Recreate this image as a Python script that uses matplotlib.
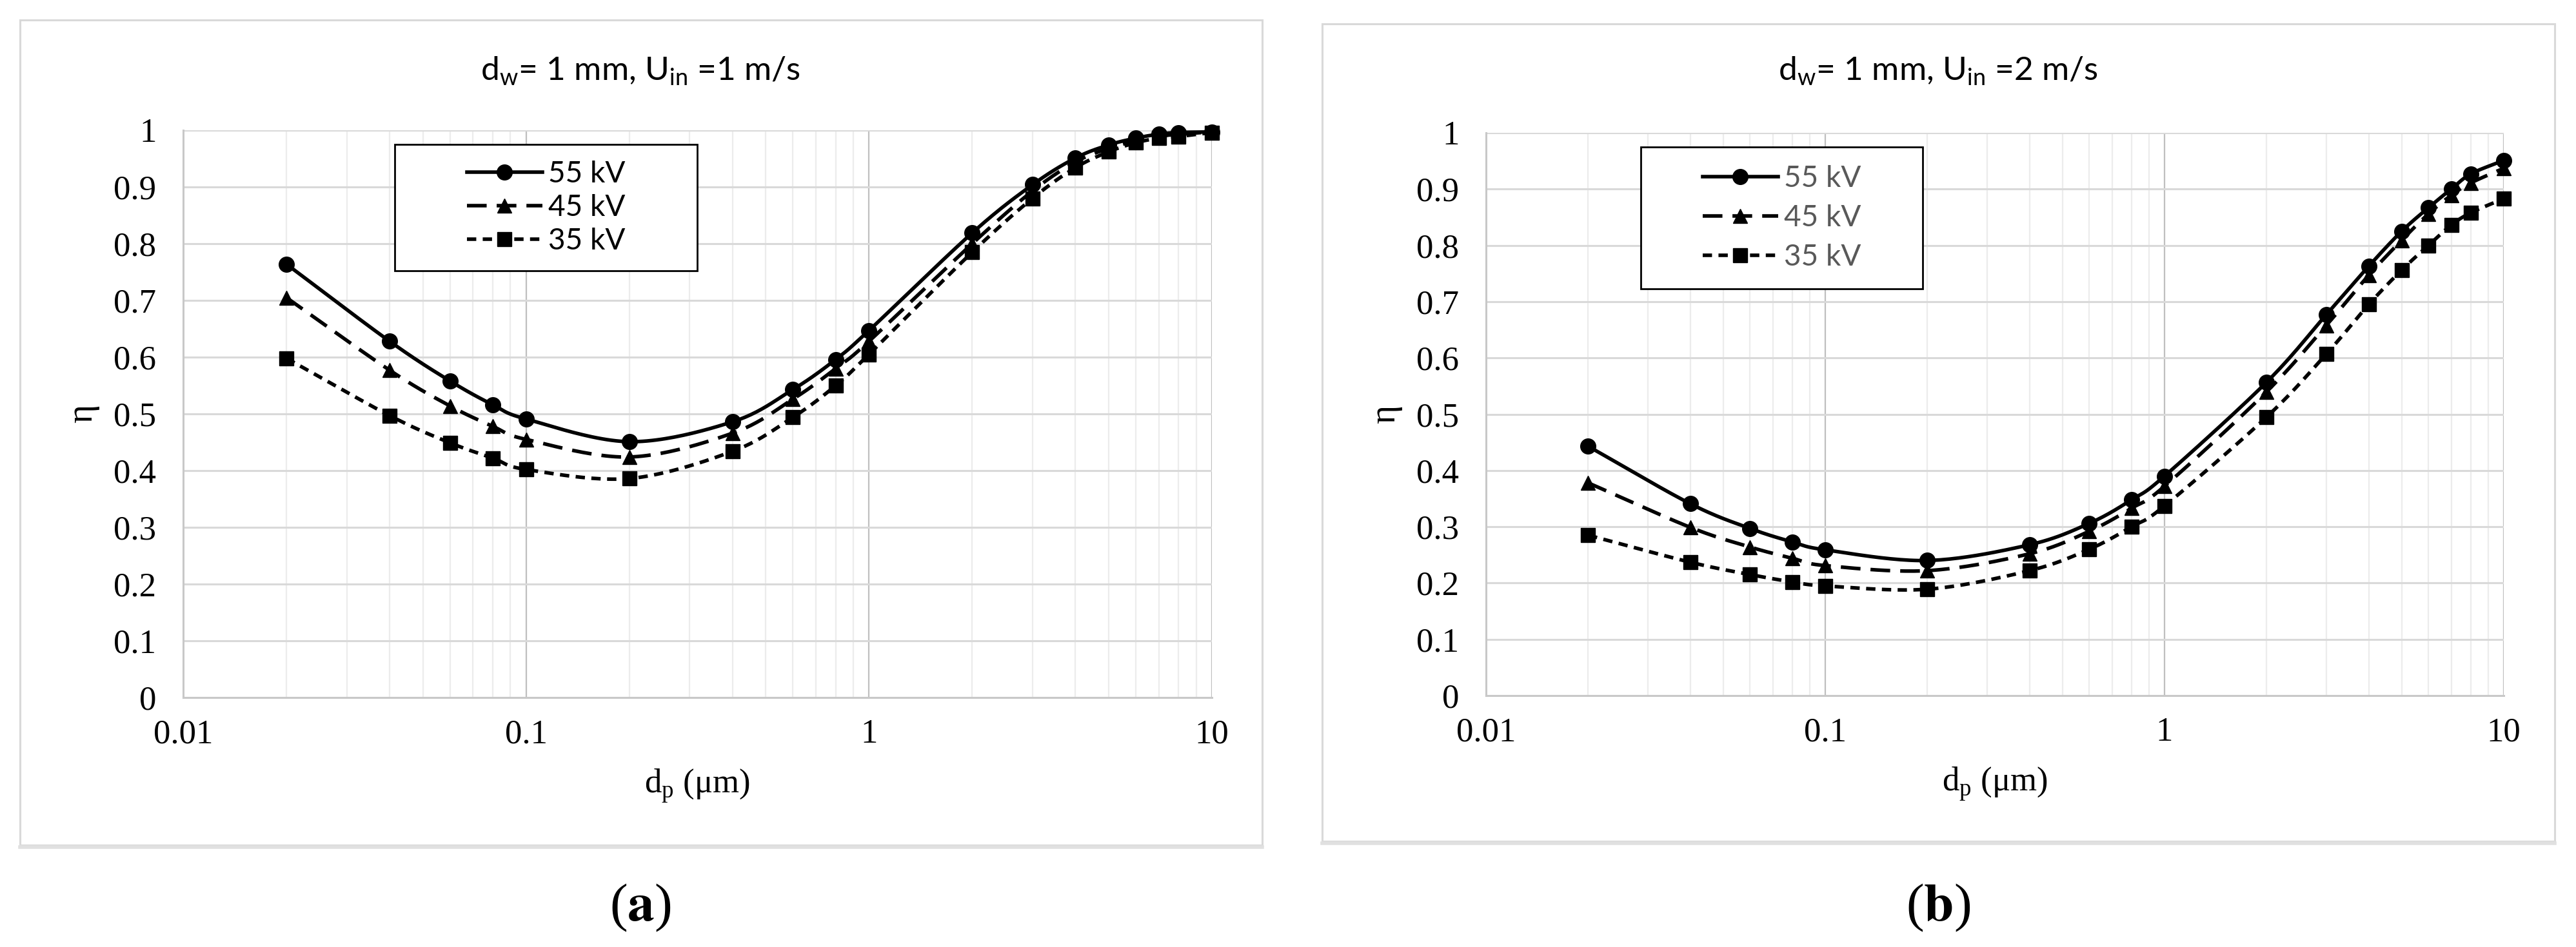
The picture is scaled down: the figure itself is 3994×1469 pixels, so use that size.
import numpy as np
import matplotlib
matplotlib.use("Agg")
import matplotlib.pyplot as plt
from matplotlib.lines import Line2D
from matplotlib.patches import Rectangle
from matplotlib.ticker import FixedLocator, NullFormatter, LogLocator

# ---------------- data ----------------
dp = [0.02, 0.04, 0.06, 0.08, 0.1, 0.2, 0.4, 0.6, 0.8, 1, 2, 3, 4, 5, 6, 7, 8, 10]
series_labels = ["55 kV", "45 kV", "35 kV"]

eta_a_55 = [0.764, 0.628, 0.558, 0.516, 0.491, 0.451, 0.486, 0.543, 0.596, 0.647, 0.819, 0.904, 0.951, 0.974, 0.986, 0.993, 0.996, 0.997]
eta_a_45 = [0.705, 0.577, 0.514, 0.478, 0.455, 0.424, 0.466, 0.526, 0.580, 0.628, 0.800, 0.893, 0.944, 0.968, 0.981, 0.989, 0.993, 0.997]
eta_a_35 = [0.598, 0.497, 0.449, 0.422, 0.402, 0.386, 0.434, 0.494, 0.550, 0.605, 0.785, 0.880, 0.934, 0.962, 0.978, 0.986, 0.989, 0.996]

eta_b_55 = [0.443, 0.341, 0.297, 0.273, 0.259, 0.240, 0.268, 0.306, 0.348, 0.390, 0.557, 0.677, 0.763, 0.825, 0.867, 0.900, 0.927, 0.951]
eta_b_45 = [0.378, 0.299, 0.264, 0.244, 0.231, 0.222, 0.252, 0.292, 0.333, 0.372, 0.540, 0.658, 0.747, 0.809, 0.856, 0.889, 0.911, 0.937]
eta_b_35 = [0.285, 0.237, 0.215, 0.202, 0.195, 0.189, 0.222, 0.260, 0.300, 0.337, 0.495, 0.607, 0.695, 0.756, 0.800, 0.836, 0.858, 0.883]

titles = ["d$_\\mathregular{w}$= 1 mm, U$_\\mathregular{in}$ =1 m/s",
          "d$_\\mathregular{w}$= 1 mm, U$_\\mathregular{in}$ =2 m/s"]
panel_tags = ["($\\mathbf{a}$)", "($\\mathbf{b}$)"]
yticks = [0, 0.1, 0.2, 0.3, 0.4, 0.5, 0.6, 0.7, 0.8, 0.9, 1]
ytick_labels = ["0", "0.1", "0.2", "0.3", "0.4", "0.5", "0.6", "0.7", "0.8", "0.9", "1"]
xticks = [0.01, 0.1, 1, 10]
xtick_labels = ["0.01", "0.1", "1", "10"]

# ---------------- style ----------------
W, H = 3994, 1469
DPI = 100
SERIF = ["Liberation Serif", "DejaVu Serif"]
SANS = ["Lato", "DejaVu Sans"]
styles = [
    dict(ls="-", marker="o", dashes=None, ms=17),
    dict(ls="--", marker="^", dashes=(5.5, 2.8), ms=16),
    dict(ls="--", marker="s", dashes=(2.6, 1.8), ms=16),
]
LW = 4.0


def smooth(x, y, n=24):
    """Catmull-Rom smoothing in log-x space (emulates a smoothed line)."""
    lx = np.log10(np.asarray(x, float))
    yy = np.asarray(y, float)
    P = np.column_stack([lx, yy])
    P = np.vstack([2 * P[0] - P[1], P, 2 * P[-1] - P[-2]])
    out = []
    t = np.linspace(0, 1, n, endpoint=False)[:, None]
    for i in range(1, len(P) - 2):
        p0, p1, p2, p3 = P[i - 1], P[i], P[i + 1], P[i + 2]
        seg = 0.5 * ((2 * p1) + (-p0 + p2) * t + (2 * p0 - 5 * p1 + 4 * p2 - p3) * t ** 2
                     + (-p0 + 3 * p1 - 3 * p2 + p3) * t ** 3)
        out.append(seg)
    out.append(P[-2][None, :])
    out = np.vstack(out)
    return 10 ** out[:, 0], out[:, 1]


fig = plt.figure(figsize=(W / DPI, H / DPI), dpi=DPI)

axes_rects = [
    [284 / W, 1 - 1082 / H, (1879 - 284) / W, (1082 - 202) / H],
    [2304 / W, 1 - 1079 / H, (3882 - 2304) / W, (1079 - 206) / H],
]
frames = [(31, 31, 1957, 1311), (2050, 37, 3961, 1305)]
legend_boxes = [(612, 224, 1081, 420), (2544, 228, 2981, 448)]
legend_spacing = [0.22, 0.42]
legend_text_colors = ["black", "#595959"]
datasets = [[eta_a_55, eta_a_45, eta_a_35], [eta_b_55, eta_b_45, eta_b_35]]
title_centers = [993, 3005]
tag_centers = [993, 3005]

for k in range(2):
    # panel frame
    x0, y0, x1, y1 = frames[k]
    fig.patches.append(Rectangle((x0 / W, 1 - y1 / H), (x1 - x0) / W, (y1 - y0) / H,
                                 transform=fig.transFigure, fill=False,
                                 edgecolor="#d9d9d9", linewidth=2.2, zorder=0))
    fig.lines.append(Line2D([x0 / W, x1 / W], [1 - y1 / H - 0.002, 1 - y1 / H - 0.002],
                            transform=fig.transFigure, color="#e0e0e0", linewidth=4))

    ax = fig.add_axes(axes_rects[k])
    ax.set_xscale("log")
    ax.set_xlim(0.01, 10)
    ax.set_ylim(0, 1)

    ax.xaxis.set_major_locator(FixedLocator(xticks))
    ax.set_xticklabels(xtick_labels)
    ax.xaxis.set_minor_locator(LogLocator(base=10, subs=np.arange(2, 10)))
    ax.xaxis.set_minor_formatter(NullFormatter())
    ax.set_yticks(yticks)
    ax.set_yticklabels(ytick_labels)

    ax.grid(True, which="major", axis="y", color="#d9d9d9", linewidth=2.2)
    ax.grid(True, which="major", axis="x", color="#bfbfbf", linewidth=1.6)
    ax.grid(True, which="minor", axis="x", color="#ececec", linewidth=1.6)
    ax.set_axisbelow(True)
    for s in ["top", "right"]:
        ax.spines[s].set_visible(False)
    for s in ["left", "bottom"]:
        ax.spines[s].set_color("#c8c8c8")
        ax.spines[s].set_linewidth(2.2)
    ax.tick_params(which="both", length=0)
    ax.tick_params(axis="y", pad=30, labelsize=38)
    ax.tick_params(axis="x", pad=24, labelsize=38)
    for lab in ax.get_xticklabels() + ax.get_yticklabels():
        lab.set_fontfamily(SERIF)

    handles = []
    for series, st, name in zip(datasets[k], styles, series_labels):
        xs, ys = smooth(dp, series)
        line, = ax.plot(xs, ys, color="black", linewidth=LW, linestyle=st["ls"],
                        solid_capstyle="butt", dash_capstyle="butt", zorder=3)
        if st["dashes"] is not None:
            line.set_dashes(st["dashes"])
        ax.plot(dp, series, linestyle="none", marker=st["marker"], markersize=st["ms"],
                color="black", zorder=4, clip_on=False)
        h = Line2D([], [], color="black", linewidth=LW, linestyle=st["ls"],
                   marker=st["marker"], markersize=st["ms"])
        if st["dashes"] is not None:
            h.set_dashes(st["dashes"])
        handles.append(h)

    # legend box
    lx0, ly0, lx1, ly1 = legend_boxes[k]
    pos = axes_rects[k]
    axw, axh = pos[2] * W, pos[3] * H
    axl, axb = pos[0] * W, (1 - pos[1]) * H
    fx0 = (lx0 - axl) / axw
    fx1 = (lx1 - axl) / axw
    fy1 = (axb - ly0) / axh
    fy0 = (axb - ly1) / axh
    ax.add_patch(Rectangle((fx0, fy0), fx1 - fx0, fy1 - fy0, transform=ax.transAxes,
                           facecolor="white", edgecolor="black", linewidth=2.0, zorder=5))
    leg = ax.legend(handles, series_labels, loc="center",
                    bbox_to_anchor=((fx0 + fx1) / 2, (fy0 + fy1) / 2),
                    frameon=False, prop={"family": SANS, "size": 33},
                    handlelength=2.55, handletextpad=0.2,
                    labelspacing=legend_spacing[k], borderpad=0.1)
    leg.set_zorder(6)
    for t in leg.get_texts():
        t.set_color(legend_text_colors[k])

    ax.set_xlabel("d$_\\mathregular{p}$ (μm)", fontsize=38, family=SERIF, labelpad=20)
    ax.set_ylabel("η", fontsize=40, family=SERIF, labelpad=16)

    fig.text(title_centers[k] / W, 1 - 110 / H, titles[k], ha="center", va="center",
             fontsize=37, family=SANS)
    fig.text(tag_centers[k] / W, 1 - 1408 / H, panel_tags[k], ha="center", va="center",
             fontsize=60, family=SERIF, math_fontfamily="stix")

fig.savefig("out.png", dpi=DPI)
